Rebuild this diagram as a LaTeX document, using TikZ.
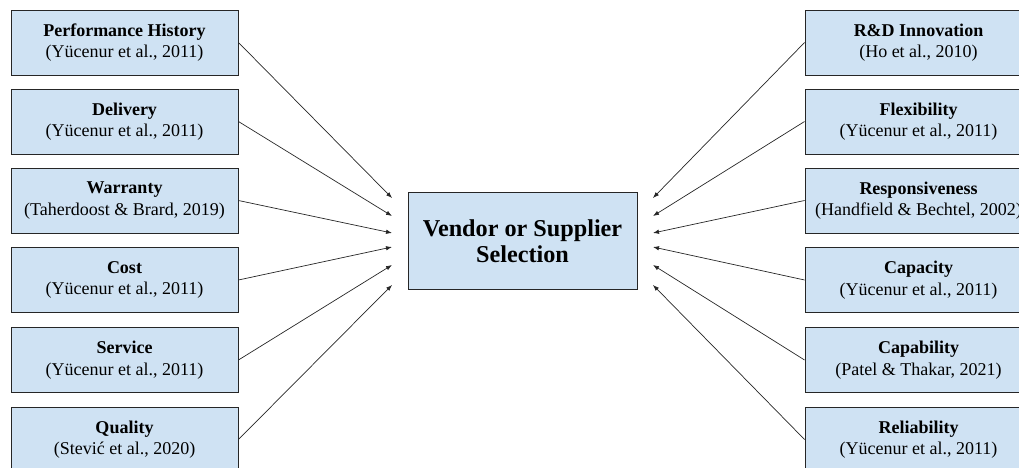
\documentclass[tikz,border=0pt]{standalone}
\usepackage{fontspec}
\setmainfont{Liberation Serif}
\usetikzlibrary{arrows.meta}
\definecolor{boxblue}{HTML}{CFE2F3}
\tikzset{>={Latex[width=4.5pt,length=6pt]}}
\tikzset{factor/.style={draw=black!85,line width=0.9pt,fill=boxblue,minimum width=227pt,minimum height=65pt,
  inner sep=0pt,align=center,font=\fontsize{18}{21.5}\selectfont},
  hub/.style={draw=black!85,line width=0.9pt,fill=boxblue,minimum width=229pt,minimum height=97pt,
  inner sep=0pt,align=center,font=\fontsize{24.2}{26}\selectfont\bfseries},
  link/.style={->,draw=black!85,line width=0.7pt}}

\begin{document}
\begin{tikzpicture}[x=1pt,y=-1pt]
\useasboundingbox (0,0) rectangle (1019,468);
\clip (0,0) rectangle (1019,468);
% left column
\node[factor] (perf) at (124.5,42.5) {\textbf{Performance History}\\(Yücenur et al., 2011)};
\node[factor] (deli) at (124.5,121.5) {\textbf{Delivery}\\(Yücenur et al., 2011)};
\node[factor] (warr) at (124.5,200.5) {\textbf{Warranty}\\(Taherdoost \& Brard, 2019)};
\node[factor] (cost) at (124.5,280) {\textbf{Cost}\\(Yücenur et al., 2011)};
\node[factor] (serv) at (124.5,360) {\textbf{Service}\\(Yücenur et al., 2011)};
\node[factor] (qual) at (124.5,439.5) {\textbf{Quality}\\(Stević et al., 2020)};
% right column
\node[factor] (rnd) at (918.5,42.5) {\textbf{R\&D Innovation}\\(Ho et al., 2010)};
\node[factor] (flex) at (918.5,121.5) {\textbf{Flexibility}\\(Yücenur et al., 2011)};
\node[factor] (resp) at (918.5,200.5) {\textbf{Responsiveness}\\(Handfield \& Bechtel, 2002)};
\node[factor] (capa) at (918.5,280) {\textbf{Capacity}\\(Yücenur et al., 2011)};
\node[factor] (cabl) at (918.5,360) {\textbf{Capability}\\(Patel \& Thakar, 2021)};
\node[factor] (reli) at (918.5,439.5) {\textbf{Reliability}\\(Yücenur et al., 2011)};
% centre
\node[hub] (vss) at (522.5,241) {Vendor or Supplier\\Selection};
\coordinate (l1) at (392,198); \coordinate (r1) at (653,198);
\coordinate (l2) at (392,216); \coordinate (r2) at (653,216);
\coordinate (l3) at (392,233); \coordinate (r3) at (653,233);
\coordinate (l4) at (392,247); \coordinate (r4) at (653,247);
\coordinate (l5) at (392,265); \coordinate (r5) at (653,265);
\coordinate (l6) at (392,285); \coordinate (r6) at (653,285);
\draw[link] (perf.east) -- (l1);
\draw[link] (deli.east) -- (l2);
\draw[link] (warr.east) -- (l3);
\draw[link] (cost.east) -- (l4);
\draw[link] (serv.east) -- (l5);
\draw[link] (qual.east) -- (l6);
\draw[link] (rnd.west) -- (r1);
\draw[link] (flex.west) -- (r2);
\draw[link] (resp.west) -- (r3);
\draw[link] (capa.west) -- (r4);
\draw[link] (cabl.west) -- (r5);
\draw[link] (reli.west) -- (r6);
\end{tikzpicture}
\end{document}
